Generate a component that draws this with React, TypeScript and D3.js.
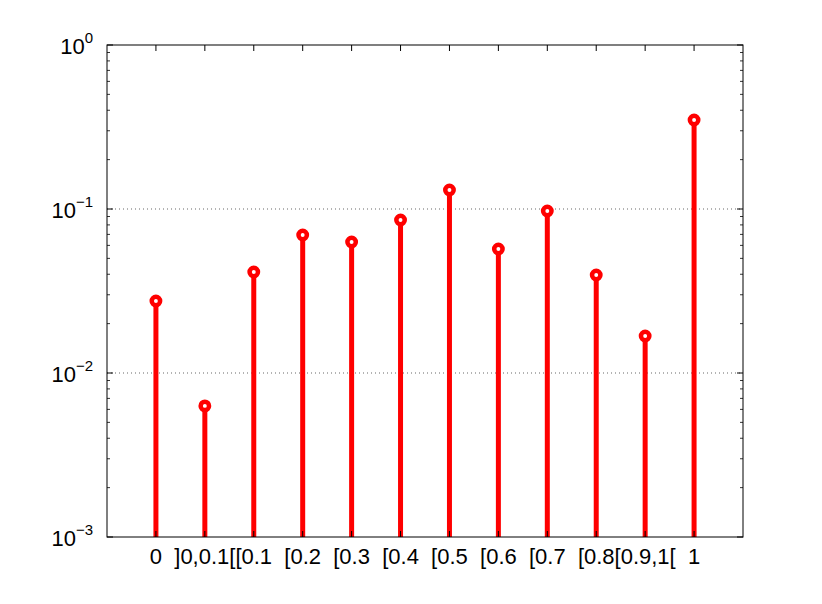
import React from "react";
import * as d3 from "d3";

const categories = ["0", "]0,0.1[", "[0.1", "[0.2", "[0.3", "[0.4", "[0.5", "[0.6", "[0.7", "[0.8", "[0.9,1[", "1"];
const values = [0.0275, 0.0063, 0.0413, 0.0694, 0.0629, 0.0857, 0.1306, 0.057, 0.0973, 0.0396, 0.0168, 0.349];
const yExponents = [0, -1, -2, -3];

const W = 822, H = 604;
const M = { left: 107, right: 743, top: 45, bottom: 537 };

export default function App() {
  const x = d3.scaleLinear().domain([0, 13]).range([M.left, M.right]);
  const y = d3.scaleLog().domain([1e-3, 1]).range([M.bottom, M.top]);
  const minor: number[] = [];
  for (let e = -3; e < 0; e++) for (let k = 2; k <= 9; k++) minor.push(k * Math.pow(10, e));
  const font = "Arial, 'Liberation Sans', Helvetica, sans-serif";
  return (
    <svg width={W} height={H} style={{ position: "absolute", left: 0, top: 0, background: "#fff" }}>
      <rect x={0} y={0} width={W} height={H} fill="#fff" />
      {yExponents.filter(e => e > -3 && e < 0).map(e => (
        <line key={e} x1={M.left} x2={M.right} y1={y(Math.pow(10, e))} y2={y(Math.pow(10, e))}
          stroke="#000" strokeWidth={0.6} strokeDasharray="1,3" />
      ))}
      {values.map((v, i) => (
        <g key={i}>
          <line x1={x(i + 1)} x2={x(i + 1)} y1={y(1e-3)} y2={y(v)} stroke="#ff0000" strokeWidth={5} />
          <circle cx={x(i + 1)} cy={y(v)} r={4.2} fill="#fff" stroke="#ff0000" strokeWidth={4.5} />
        </g>
      ))}
      <rect x={M.left} y={M.top} width={M.right - M.left} height={M.bottom - M.top} fill="none" stroke="#000" strokeWidth={1} />
      {categories.map((c, i) => (
        <g key={c}>
          <line x1={x(i + 1)} x2={x(i + 1)} y1={M.bottom} y2={M.bottom - 6} stroke="#000" />
          <line x1={x(i + 1)} x2={x(i + 1)} y1={M.top} y2={M.top + 6} stroke="#000" />
          <text x={x(i + 1)} y={M.bottom + 27} textAnchor="middle" fontFamily={font} fontSize="22px">{c}</text>
        </g>
      ))}
      {yExponents.map(e => (
        <g key={e}>
          <line x1={M.left} x2={M.left + 6} y1={y(Math.pow(10, e))} y2={y(Math.pow(10, e))} stroke="#000" />
          <line x1={M.right} x2={M.right - 6} y1={y(Math.pow(10, e))} y2={y(Math.pow(10, e))} stroke="#000" />
          <text x={M.left - 14} y={y(Math.pow(10, e)) + 9} textAnchor="end" fontFamily={font} fontSize="22px">
            10<tspan dy={-11} fontSize="15px">{e === 0 ? "0" : "\u2212" + Math.abs(e)}</tspan>
          </text>
        </g>
      ))}
      {minor.map((m, i) => (
        <g key={i}>
          <line x1={M.left} x2={M.left + 3} y1={y(m)} y2={y(m)} stroke="#000" strokeWidth={0.8} />
          <line x1={M.right} x2={M.right - 3} y1={y(m)} y2={y(m)} stroke="#000" strokeWidth={0.8} />
        </g>
      ))}
    </svg>
  );
}
